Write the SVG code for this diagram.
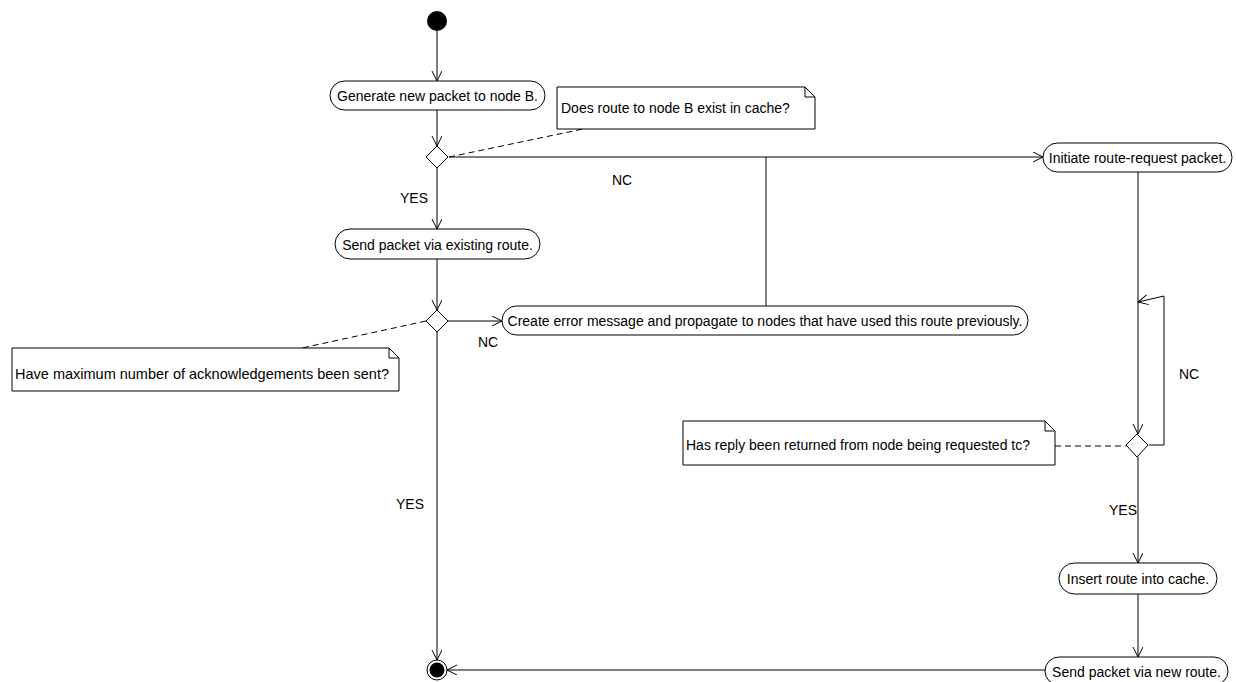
<svg xmlns="http://www.w3.org/2000/svg" width="1236" height="682" viewBox="0 0 1236 682">
<style>
  .node rect { fill: #fff; stroke: #000; stroke-width: 1; }
  .dia { fill: #fff; stroke: #000; stroke-width: 1; }
  .note { fill: #fff; stroke: #000; stroke-width: 1; }
  text { font-family: "Liberation Sans", Arial, sans-serif; font-size: 14px; fill: #000; }
  .lbl { text-anchor: middle; }
  .ntext { text-anchor: middle; }
  .conn { fill: none; stroke: #000; stroke-width: 1; }
  .arr { marker-end: url(#arrow); }
  .dash { fill: none; stroke: #000; stroke-width: 1; stroke-dasharray: 6 4; }
</style>
<defs>
  <marker id="arrow" markerWidth="12" markerHeight="12" refX="10" refY="5" orient="auto" markerUnits="userSpaceOnUse">
    <path d="M0,0 L10,5 L0,10" fill="none" stroke="#000" stroke-width="1"/>
  </marker>
</defs>
<rect width="1236" height="682" fill="#fff"/>

<g id="connectors">
  <line class="conn arr" x1="437" y1="31" x2="437" y2="81"/>
  <line class="conn arr" x1="437" y1="110" x2="437" y2="146"/>
  <line class="conn arr" x1="437" y1="168" x2="437" y2="229"/>
  <line class="conn arr" x1="437" y1="259" x2="437" y2="310"/>
  <line class="conn arr" x1="437" y1="332" x2="437" y2="660"/>
  <line class="conn arr" x1="449" y1="157" x2="1043" y2="157"/>
  <line class="conn" x1="766" y1="157" x2="766" y2="306"/>
  <line class="conn arr" x1="448" y1="321" x2="502" y2="321"/>
  <line class="conn arr" x1="1138" y1="172" x2="1138" y2="434"/>
  <polyline class="conn arr" points="1149,445 1164,445 1164,296 1138,302"/>
  <line class="conn arr" x1="1138" y1="457" x2="1138" y2="563"/>
  <line class="conn arr" x1="1138" y1="594" x2="1138" y2="657"/>
  <line class="conn arr" x1="1045" y1="670" x2="447" y2="670"/>
  <line class="dash" x1="449" y1="157" x2="583" y2="129"/>
  <line class="dash" x1="426" y1="321" x2="302" y2="348"/>
  <line class="dash" x1="1055" y1="446" x2="1126" y2="446"/>
  <text class="lbl" x="414" y="203">YES</text>
  <text class="lbl" x="622" y="185">NC</text>
  <text class="lbl" x="488" y="347">NC</text>
  <text class="lbl" x="410" y="509">YES</text>
  <text class="lbl" x="1189" y="379">NC</text>
  <text class="lbl" x="1123" y="515">YES</text>
</g>

<g id="start"><circle cx="437" cy="21" r="10" fill="#000"/></g>
<g id="end">
  <circle cx="437" cy="670" r="10" fill="#fff" stroke="#000" stroke-width="1"/>
  <circle cx="437" cy="670" r="7.5" fill="#000"/>
</g>

<g id="n_generate" class="node">
  <rect x="330" y="81" width="215" height="29" rx="14.5"/>
  <text class="ntext" x="437.5" y="100.5">Generate new packet to node B.</text>
</g>
<g id="d1"><polygon class="dia" points="437,146 448,157 437,168 426,157"/></g>
<g id="n_send_existing" class="node">
  <rect x="335" y="229" width="205" height="30" rx="15"/>
  <text class="ntext" x="437.5" y="249.5">Send packet via existing route.</text>
</g>
<g id="d2"><polygon class="dia" points="437,310 448,321 437,332 426,321"/></g>
<g id="n_error" class="node">
  <rect x="502" y="306" width="526" height="29" rx="14.5"/>
  <text class="ntext" x="765" y="325.5">Create error message and propagate to nodes that have used this route previously.</text>
</g>
<g id="n_initiate" class="node">
  <rect x="1043" y="143" width="189" height="29" rx="14.5"/>
  <text class="ntext" x="1137.5" y="162.5">Initiate route-request packet.</text>
</g>
<g id="d3"><polygon class="dia" points="1137,434 1148,445 1137,457 1126,445"/></g>
<g id="n_insert" class="node">
  <rect x="1059" y="563" width="158" height="31" rx="15.5"/>
  <text class="ntext" x="1138" y="583.5">Insert route into cache.</text>
</g>
<g id="n_send_new" class="node">
  <rect x="1045" y="657" width="183" height="28" rx="14"/>
  <text class="ntext" x="1136.5" y="676.5">Send packet via new route.</text>
</g>

<g id="note1">
  <path class="note" d="M557,87 H805 L815,97 V129 H557 Z"/>
  <path class="conn" d="M805,87 V97 H815"/>
  <text x="561" y="113">Does route to node B exist in cache?</text>
</g>
<g id="note2">
  <path class="note" d="M12,348 H389 L399,358 V391 H12 Z"/>
  <path class="conn" d="M389,348 V358 H399"/>
  <text x="15" y="379" style="font-size:14.5px">Have maximum number of acknowledgements been sent?</text>
</g>
<g id="note3">
  <path class="note" d="M683,421 H1045 L1055,431 V465 H683 Z"/>
  <path class="conn" d="M1045,421 V431 H1055"/>
  <text x="686" y="450">Has reply been returned from node being requested tc?</text>
</g>
</svg>
